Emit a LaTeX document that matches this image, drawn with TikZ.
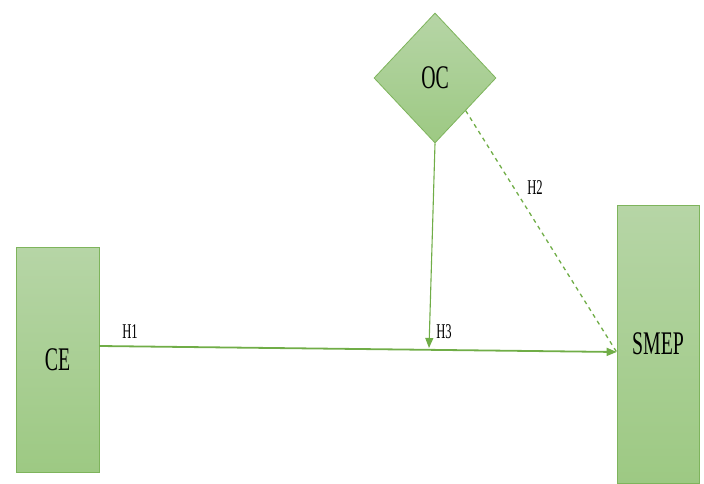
\documentclass[tikz,border=0pt]{standalone}
\usepackage{fontspec}
\newfontfamily\narrowserif[FakeStretch=0.6]{Liberation Serif}
\usetikzlibrary{shapes.geometric,arrows.meta,calc}
\definecolor{boxtop}{RGB}{182,213,166}
\definecolor{boxbot}{RGB}{157,201,131}
\definecolor{boxline}{RGB}{126,180,92}
\definecolor{linkgreen}{RGB}{112,173,71}
\tikzset{
  block/.style={draw=boxline,line width=0.8pt,top color=boxtop,bottom color=boxbot,
    font=\narrowserif\fontsize{33}{33}\selectfont,inner sep=0pt},
  lbl/.style={font=\narrowserif\fontsize{21}{21}\selectfont,inner sep=0pt},
  link/.style={draw=linkgreen,-{Triangle[length=10pt,width=8pt]}}
}
\begin{document}
\begin{tikzpicture}[x=1pt,y=-1pt]
    \useasboundingbox (0,0) rectangle (704,484);
    % constructs
    \node[block,rectangle,minimum width=83pt,minimum height=225pt](CE)at(57.5,359.5){CE};
    \node[block,rectangle,minimum width=82pt,minimum height=278pt](SMEP)at(658,344){SMEP};
    \node[block,diamond,minimum width=122pt,minimum height=130pt](OC)at(435,78){OC};
    % paths
    \coordinate(h3end)at(429,348);
    \draw[link,line width=1.8pt]([yshift=13.5pt]CE.east)--([yshift=-8pt]SMEP.west);
    \draw[link,line width=1.1pt](OC.south)--(h3end);
    \draw[draw=linkgreen,line width=1.3pt,dash pattern=on 4pt off 4pt](OC.south east)--([yshift=-8pt]SMEP.west);
    % hypothesis labels
    \node[lbl](H1)at(130,332){H1};
    \node[lbl](H2)at(535,188){H2};
    \node[lbl](H3)at(444,332){H3};
\end{tikzpicture}
\end{document}
